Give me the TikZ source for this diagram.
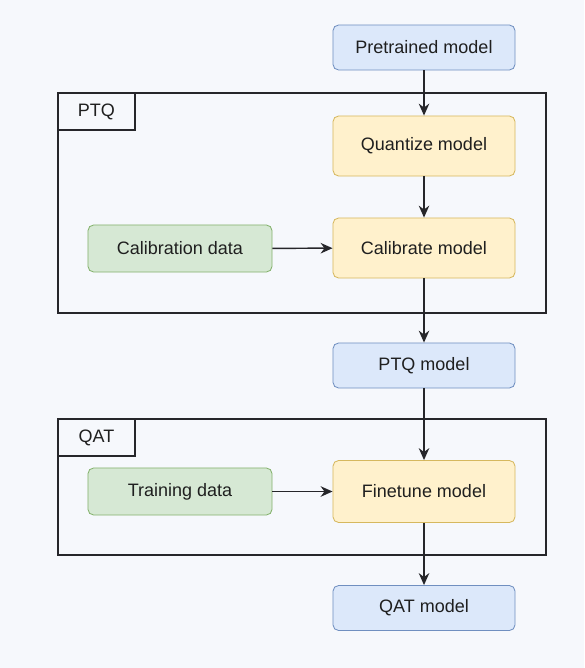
\documentclass[tikz,border=0pt]{standalone}
\usepackage{fontspec}
\setmainfont{Liberation Sans}
\usetikzlibrary{arrows.meta,positioning}
\definecolor{bgcol}{RGB}{246,248,252}
\definecolor{bluefill}{RGB}{220,232,250}
\definecolor{bluedraw}{RGB}{112,143,192}
\definecolor{yellowfill}{RGB}{255,241,204}
\definecolor{yellowdraw}{RGB}{214,184,94}
\definecolor{greenfill}{RGB}{214,232,212}
\definecolor{greendraw}{RGB}{132,178,108}
\definecolor{framecol}{RGB}{38,38,42}

\begin{document}
\begin{tikzpicture}[x=0.025cm, y=-0.025cm, line width=1.05pt]
\tikzstyle{every node} = [font=\fontsize{12.8}{14}\selectfont, text=black!88]
\tikzstyle{model} = [rectangle, rounded corners=4pt, draw=bluedraw, fill=bluefill, line width=0.6pt, minimum width=4.55cm, minimum height=1.125cm]
\tikzstyle{stage} = [model, draw=yellowdraw, fill=yellowfill, minimum height=1.5cm]
\tikzstyle{dataset} = [model, draw=greendraw, fill=greenfill, minimum width=4.6cm, minimum height=1.175cm]
\tikzstyle{frame} = [rectangle, draw=framecol, line width=1.05pt, inner sep=0pt]
\tikzstyle{tab} = [frame, minimum width=1.925cm, minimum height=0.925cm, anchor=north west]
\tikzstyle{flow} = [-{Stealth[length=8.5pt, width=7.5pt]}, framecol]
% background
\fill[bgcol] (0,0) rectangle (584,668);
% frames
\node[frame, minimum width=12.2cm, minimum height=5.5cm] (ptqbox) at (302,203) {};
\node[tab] (ptqtab) at (ptqbox.north west) {PTQ};
\node[frame, minimum width=12.2cm, minimum height=3.4cm] (qatbox) at (302,487) {};
\node[tab] (qattab) at (qatbox.north west) {QAT};
% blocks
\node[model] (pre) at (424,47.5) {Pretrained model};
\node[stage] (quant) at (424,146) {Quantize model};
\node[stage] (calib) at (424,248) {Calibrate model};
\node[dataset] (caldata) at (180,248.5) {Calibration data};
\node[model] (ptq) at (424,365.5) {PTQ model};
\node[stage, minimum height=1.55cm] (fine) at (424,491.5) {Finetune model};
\node[dataset] (train) at (180,491.5) {Training data};
\node[model] (qat) at (424,608) {QAT model};
% arrows
\draw[flow] (pre) -- (quant);
\draw[flow] (quant) -- (calib);
\draw[flow] (caldata) -- (calib);
\draw[flow] (calib) -- (ptq);
\draw[flow] (ptq) -- (fine);
\draw[flow] (train) -- (fine);
\draw[flow] (fine) -- (qat);
\end{tikzpicture}
\end{document}
